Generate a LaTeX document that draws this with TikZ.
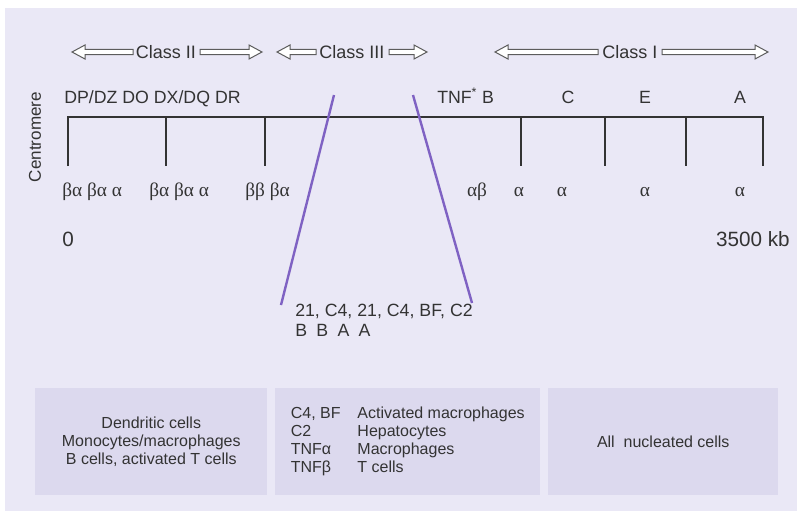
\documentclass[tikz,border=0pt]{standalone}
\usepackage{fontspec}
\setmainfont{Liberation Sans}
\newfontfamily\greekfont{Liberation Serif}
\usetikzlibrary{arrows.meta,positioning}
\definecolor{panelbg}{HTML}{EAE8F6}
\definecolor{boxbg}{HTML}{DCD9EE}
\definecolor{inkgray}{HTML}{333333}
\definecolor{cutpurple}{HTML}{7F62C3}
% hollow block arrow: tail x, tip x, y
\newcommand{\hollowarrow}[3]{%
  \pgfmathsetmacro\hdlen{(#2>#1)?13:-13}
  \draw[arrowline] ({#1},{#3-2.6}) -- ({#2-\hdlen},{#3-2.6}) -- ({#2-\hdlen},{#3-7}) -- ({#2},{#3})
    -- ({#2-\hdlen},{#3+7}) -- ({#2-\hdlen},{#3+2.6}) -- ({#1},{#3+2.6}) -- cycle;
}

\begin{document}
\begin{tikzpicture}[x=0.75pt, y=-0.75pt,
  gene/.style={font=\fontsize{13.3}{15}\selectfont, text=inkgray, inner sep=0pt, anchor=base},
  chain/.style={font=\greekfont\fontsize{14.5}{16}\selectfont, text=inkgray, inner sep=0pt, anchor=base},
  classlab/.style={font=\fontsize{13.5}{15}\selectfont, text=inkgray, inner sep=2pt},
  arrowline/.style={draw=inkgray!80, line width=0.75pt, fill=white, line join=miter},
  chrom/.style={draw=inkgray, line width=1.5pt, line join=miter},
  cut/.style={draw=cutpurple, line width=1.8pt},
  cellbox/.style={fill=boxbg, minimum height=80.25pt, align=center, anchor=west, inner sep=0pt, font=\fontsize{12}{13.5}\selectfont, text=inkgray},
  kblab/.style={font=\fontsize{15.5}{18}\selectfont, text=inkgray, inner sep=0pt, anchor=base}]
\fill[white] (0,0) rectangle (797,511);
\fill[panelbg] (5,8) rectangle (797,511);
% classes
\foreach \n/\t/\x/\a/\ta/\tb/\b in {c2/Class II/166/72/133/200/262, c3/Class III/352/277/316/389/427, c1/Class I/630/495/598/662/768} {
  \node[classlab] (\n) at (\x,52) {\t};
  \hollowarrow{\ta}{\a}{52}
  \hollowarrow{\tb}{\b}{52}
}
% chromosome
\coordinate (cen) at (68,117);
\coordinate (tel) at (763,117);
\draw[chrom] (68,166) -- (cen) -- (tel) -- (763,166);
\foreach \x in {166,265,521,605,686} \draw[chrom] (\x,117) -- (\x,166);
\node[font=\fontsize{12.8}{14}\selectfont, text=inkgray, rotate=90, inner sep=0pt] (centro) at (35,137) {Centromere};
\node[gene, anchor=base west] (cl2) at (64,103) {DP/DZ DO DX/DQ DR};
\node[gene, anchor=base west] (tnf) at (437,103) {TNF\textsuperscript{*} B};
\foreach \n/\t/\x in {gc/C/568, ge/E/645, ga/A/740} \node[gene] (\n) at (\x,103) {\t};
% chains
\node[chain, anchor=base west] (dp) at (62,196) {βα βα α};
\node[chain, anchor=base west] (dq) at (149,196) {βα βα α};
\node[chain, anchor=base west] (dr) at (245,196) {ββ βα};
\foreach \n/\t/\x in {hb/αβ/477, kb/α/519, kc/α/562, ke/α/645, ka/α/740} \node[chain] (\n) at (\x,196) {\t};
\node[kblab, anchor=base west] (zero) at (62,246) {0};
\node[kblab, anchor=base east] (end) at (790,246) {3500 kb};
% class III region
\coordinate (cutla) at (334,95);
\coordinate (cutlb) at (281,305);
\coordinate (cutra) at (413,95);
\coordinate (cutrb) at (472,303);
\draw[cut] (cutla) -- (cutlb);
\draw[cut] (cutra) -- (cutrb);
\node[gene, anchor=base west, align=left] (comp) at (295,336) {21, C4, 21, C4, BF, C2\\B\hspace{7pt}B\hspace{7pt}A\hspace{7pt}A};
% expression
\node[cellbox, minimum width=174pt] (dc) at (35,441.5) {Dendritic cells\\Monocytes/macrophages\\B cells, activated T cells};
\node[cellbox, minimum width=198.75pt, align=left] (mac) at (275,441.5) {\makebox[50pt][l]{C4, BF}Activated macrophages\\\makebox[50pt][l]{C2}Hepatocytes\\\makebox[50pt][l]{TNFα}Macrophages\\\makebox[50pt][l]{TNFβ}T cells};
\node[cellbox, minimum width=172.5pt] (all) at (548,441.5) {All~ nucleated cells};
\end{tikzpicture}
\end{document}
